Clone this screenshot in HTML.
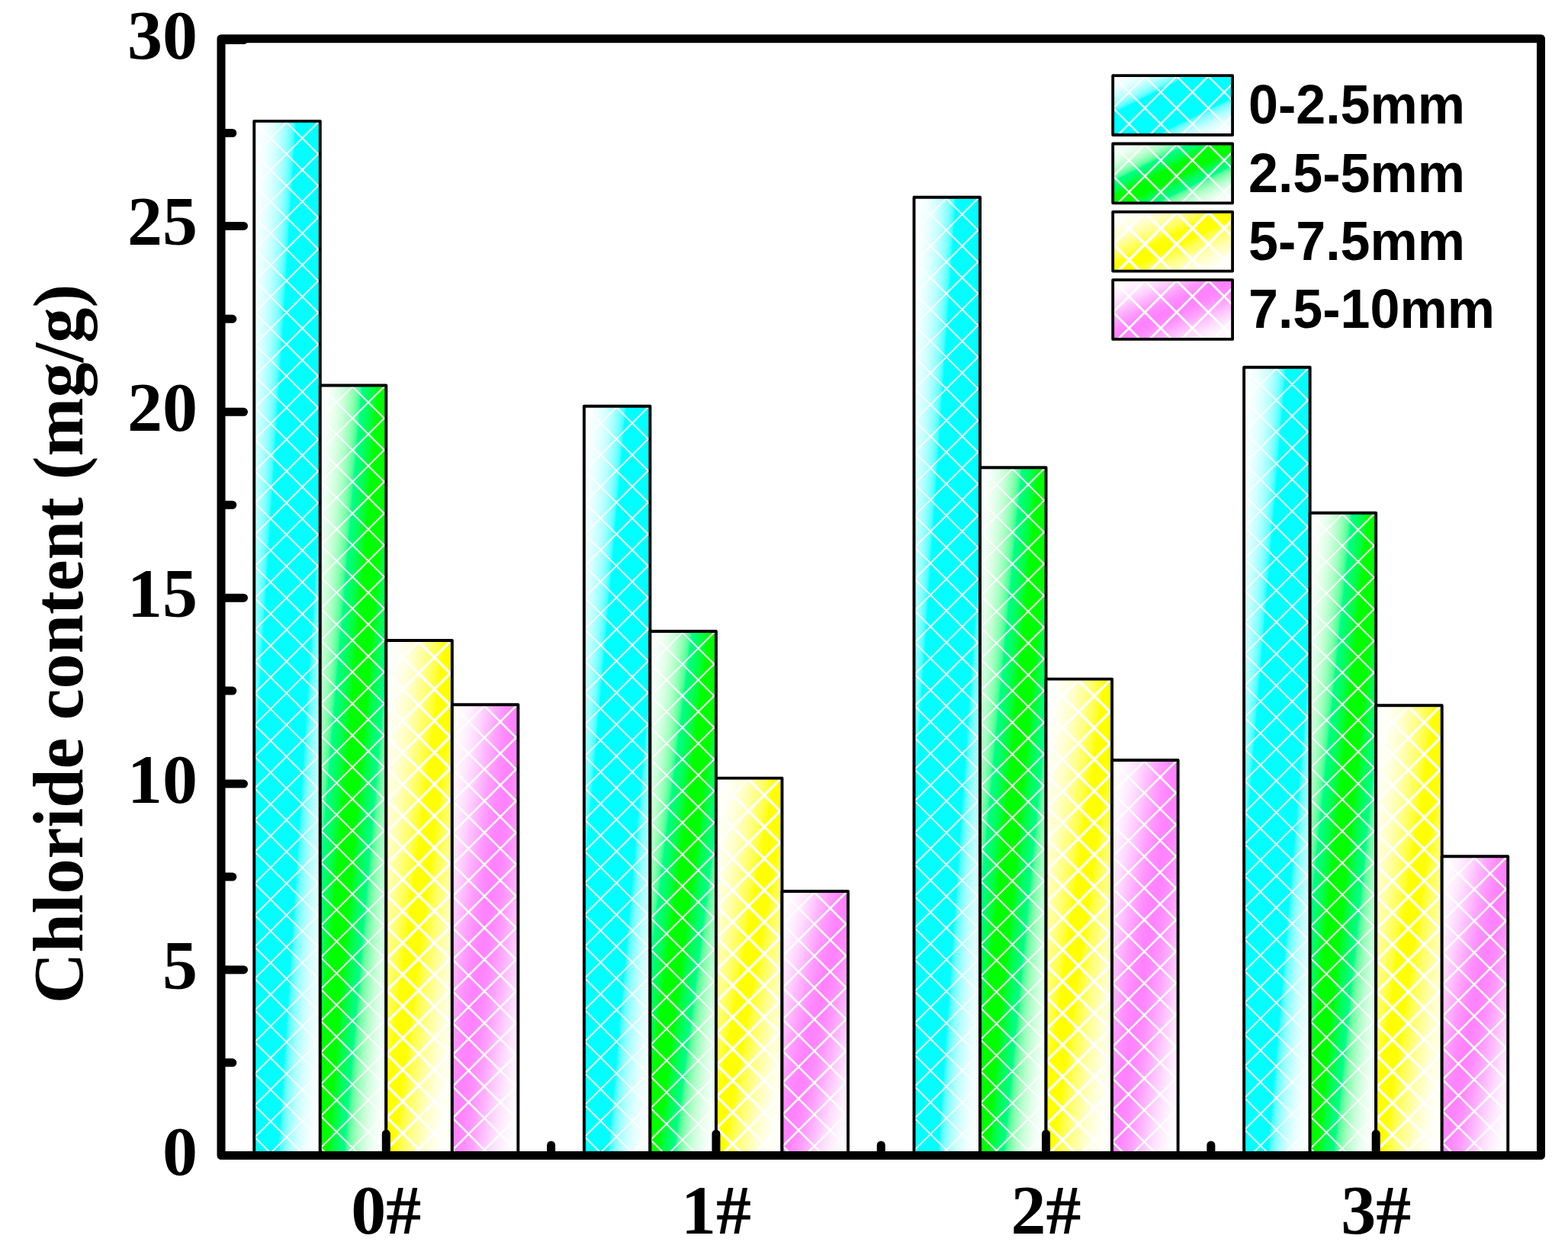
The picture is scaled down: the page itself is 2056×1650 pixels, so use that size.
<!DOCTYPE html>
<html lang="en"><head><meta charset="utf-8"><title>Chloride content</title>
<style>html,body{margin:0;padding:0;background:#fff}body{width:2056px;height:1650px;overflow:hidden}svg{display:block}.t{font-family:"Liberation Serif",serif;font-weight:bold;fill:#000}.l{font-family:"Liberation Sans",sans-serif;font-weight:bold;fill:#000}</style></head><body>
<svg width="2056" height="1650" viewBox="0 0 2056 1650">
<defs>
<linearGradient id="gc" x1="0" y1="0" x2="1" y2="1"><stop offset="0.0000" stop-color="#ffffff"/><stop offset="0.0083" stop-color="#feffff"/><stop offset="0.0167" stop-color="#feffff"/><stop offset="0.0250" stop-color="#fdffff"/><stop offset="0.0333" stop-color="#fcffff"/><stop offset="0.0417" stop-color="#fbffff"/><stop offset="0.0500" stop-color="#faffff"/><stop offset="0.0583" stop-color="#f8ffff"/><stop offset="0.0667" stop-color="#f7ffff"/><stop offset="0.0750" stop-color="#f5ffff"/><stop offset="0.0833" stop-color="#f3ffff"/><stop offset="0.0917" stop-color="#f1ffff"/><stop offset="0.1000" stop-color="#efffff"/><stop offset="0.1083" stop-color="#edffff"/><stop offset="0.1167" stop-color="#eaffff"/><stop offset="0.1250" stop-color="#e7ffff"/><stop offset="0.1333" stop-color="#e4ffff"/><stop offset="0.1417" stop-color="#e1ffff"/><stop offset="0.1500" stop-color="#ddffff"/><stop offset="0.1583" stop-color="#d9ffff"/><stop offset="0.1667" stop-color="#d5ffff"/><stop offset="0.1750" stop-color="#d0ffff"/><stop offset="0.1833" stop-color="#cbffff"/><stop offset="0.1917" stop-color="#c6ffff"/><stop offset="0.2000" stop-color="#c0ffff"/><stop offset="0.2083" stop-color="#baffff"/><stop offset="0.2167" stop-color="#b4ffff"/><stop offset="0.2250" stop-color="#adffff"/><stop offset="0.2333" stop-color="#a5ffff"/><stop offset="0.2417" stop-color="#9effff"/><stop offset="0.2500" stop-color="#95ffff"/><stop offset="0.2583" stop-color="#8cffff"/><stop offset="0.2667" stop-color="#82ffff"/><stop offset="0.2750" stop-color="#77ffff"/><stop offset="0.2833" stop-color="#6bffff"/><stop offset="0.2917" stop-color="#5dffff"/><stop offset="0.3000" stop-color="#4cffff"/><stop offset="0.3083" stop-color="#37ffff"/><stop offset="0.3167" stop-color="#0bffff"/><stop offset="0.3250" stop-color="#00ffff"/><stop offset="0.3333" stop-color="#00ffff"/><stop offset="0.3417" stop-color="#00ffff"/><stop offset="0.3500" stop-color="#00ffff"/><stop offset="0.3583" stop-color="#00ffff"/><stop offset="0.3667" stop-color="#00ffff"/><stop offset="0.3750" stop-color="#00ffff"/><stop offset="0.3833" stop-color="#00ffff"/><stop offset="0.3917" stop-color="#00ffff"/><stop offset="0.4000" stop-color="#00ffff"/><stop offset="0.4083" stop-color="#00ffff"/><stop offset="0.4167" stop-color="#00ffff"/><stop offset="0.4250" stop-color="#00ffff"/><stop offset="0.4333" stop-color="#00ffff"/><stop offset="0.4417" stop-color="#00ffff"/><stop offset="0.4500" stop-color="#00ffff"/><stop offset="0.4583" stop-color="#00ffff"/><stop offset="0.4667" stop-color="#00ffff"/><stop offset="0.4750" stop-color="#00ffff"/><stop offset="0.4833" stop-color="#00ffff"/><stop offset="0.4917" stop-color="#00ffff"/><stop offset="0.5000" stop-color="#00ffff"/><stop offset="0.5083" stop-color="#00ffff"/><stop offset="0.5167" stop-color="#00ffff"/><stop offset="0.5250" stop-color="#00ffff"/><stop offset="0.5333" stop-color="#00ffff"/><stop offset="0.5417" stop-color="#00ffff"/><stop offset="0.5500" stop-color="#00ffff"/><stop offset="0.5583" stop-color="#00ffff"/><stop offset="0.5667" stop-color="#00ffff"/><stop offset="0.5750" stop-color="#00ffff"/><stop offset="0.5833" stop-color="#00ffff"/><stop offset="0.5917" stop-color="#00ffff"/><stop offset="0.6000" stop-color="#00ffff"/><stop offset="0.6083" stop-color="#00ffff"/><stop offset="0.6167" stop-color="#00ffff"/><stop offset="0.6250" stop-color="#00ffff"/><stop offset="0.6333" stop-color="#00ffff"/><stop offset="0.6417" stop-color="#00ffff"/><stop offset="0.6500" stop-color="#00ffff"/><stop offset="0.6583" stop-color="#00ffff"/><stop offset="0.6667" stop-color="#00ffff"/><stop offset="0.6750" stop-color="#00ffff"/><stop offset="0.6833" stop-color="#0bffff"/><stop offset="0.6917" stop-color="#37ffff"/><stop offset="0.7000" stop-color="#4cffff"/><stop offset="0.7083" stop-color="#5dffff"/><stop offset="0.7167" stop-color="#6bffff"/><stop offset="0.7250" stop-color="#77ffff"/><stop offset="0.7333" stop-color="#82ffff"/><stop offset="0.7417" stop-color="#8cffff"/><stop offset="0.7500" stop-color="#95ffff"/><stop offset="0.7583" stop-color="#9effff"/><stop offset="0.7667" stop-color="#a5ffff"/><stop offset="0.7750" stop-color="#adffff"/><stop offset="0.7833" stop-color="#b4ffff"/><stop offset="0.7917" stop-color="#baffff"/><stop offset="0.8000" stop-color="#c0ffff"/><stop offset="0.8083" stop-color="#c6ffff"/><stop offset="0.8167" stop-color="#cbffff"/><stop offset="0.8250" stop-color="#d0ffff"/><stop offset="0.8333" stop-color="#d5ffff"/><stop offset="0.8417" stop-color="#d9ffff"/><stop offset="0.8500" stop-color="#ddffff"/><stop offset="0.8583" stop-color="#e1ffff"/><stop offset="0.8667" stop-color="#e4ffff"/><stop offset="0.8750" stop-color="#e7ffff"/><stop offset="0.8833" stop-color="#eaffff"/><stop offset="0.8917" stop-color="#edffff"/><stop offset="0.9000" stop-color="#efffff"/><stop offset="0.9083" stop-color="#f1ffff"/><stop offset="0.9167" stop-color="#f3ffff"/><stop offset="0.9250" stop-color="#f5ffff"/><stop offset="0.9333" stop-color="#f7ffff"/><stop offset="0.9417" stop-color="#f8ffff"/><stop offset="0.9500" stop-color="#faffff"/><stop offset="0.9583" stop-color="#fbffff"/><stop offset="0.9667" stop-color="#fcffff"/><stop offset="0.9750" stop-color="#fdffff"/><stop offset="0.9833" stop-color="#feffff"/><stop offset="0.9917" stop-color="#feffff"/><stop offset="1.0000" stop-color="#ffffff"/></linearGradient>
<linearGradient id="gg" x1="0" y1="0" x2="1" y2="1"><stop offset="0.0000" stop-color="#ffffff"/><stop offset="0.0083" stop-color="#feffff"/><stop offset="0.0167" stop-color="#fefffe"/><stop offset="0.0250" stop-color="#fdfffd"/><stop offset="0.0333" stop-color="#fcfffd"/><stop offset="0.0417" stop-color="#fbfffc"/><stop offset="0.0500" stop-color="#fafffb"/><stop offset="0.0583" stop-color="#f8fffa"/><stop offset="0.0667" stop-color="#f7fff9"/><stop offset="0.0750" stop-color="#f5fff8"/><stop offset="0.0833" stop-color="#f3fff6"/><stop offset="0.0917" stop-color="#f1fff5"/><stop offset="0.1000" stop-color="#effff3"/><stop offset="0.1083" stop-color="#edfff2"/><stop offset="0.1167" stop-color="#eafff0"/><stop offset="0.1250" stop-color="#e7ffee"/><stop offset="0.1333" stop-color="#e4ffeb"/><stop offset="0.1417" stop-color="#e1ffe9"/><stop offset="0.1500" stop-color="#ddffe6"/><stop offset="0.1583" stop-color="#d9ffe3"/><stop offset="0.1667" stop-color="#d5ffe0"/><stop offset="0.1750" stop-color="#d0ffdd"/><stop offset="0.1833" stop-color="#cbffda"/><stop offset="0.1917" stop-color="#c6ffd6"/><stop offset="0.2000" stop-color="#c0ffd3"/><stop offset="0.2083" stop-color="#baffcf"/><stop offset="0.2167" stop-color="#b4ffca"/><stop offset="0.2250" stop-color="#adffc6"/><stop offset="0.2333" stop-color="#a5ffc2"/><stop offset="0.2417" stop-color="#9effbd"/><stop offset="0.2500" stop-color="#95ffb8"/><stop offset="0.2583" stop-color="#8cffb3"/><stop offset="0.2667" stop-color="#82ffae"/><stop offset="0.2750" stop-color="#77ffa8"/><stop offset="0.2833" stop-color="#6bffa2"/><stop offset="0.2917" stop-color="#5dff9d"/><stop offset="0.3000" stop-color="#4cff97"/><stop offset="0.3083" stop-color="#37ff91"/><stop offset="0.3167" stop-color="#0bff8b"/><stop offset="0.3250" stop-color="#00ff84"/><stop offset="0.3333" stop-color="#00ff7e"/><stop offset="0.3417" stop-color="#00ff77"/><stop offset="0.3500" stop-color="#00ff71"/><stop offset="0.3583" stop-color="#00ff6a"/><stop offset="0.3667" stop-color="#00ff63"/><stop offset="0.3750" stop-color="#00ff5b"/><stop offset="0.3833" stop-color="#00ff54"/><stop offset="0.3917" stop-color="#00ff4c"/><stop offset="0.4000" stop-color="#00ff44"/><stop offset="0.4083" stop-color="#00ff3b"/><stop offset="0.4167" stop-color="#00ff32"/><stop offset="0.4250" stop-color="#00ff27"/><stop offset="0.4333" stop-color="#00ff1a"/><stop offset="0.4417" stop-color="#00ff02"/><stop offset="0.4500" stop-color="#00ff00"/><stop offset="0.4583" stop-color="#00ff00"/><stop offset="0.4667" stop-color="#00ff00"/><stop offset="0.4750" stop-color="#00ff00"/><stop offset="0.4833" stop-color="#00ff00"/><stop offset="0.4917" stop-color="#00ff00"/><stop offset="0.5000" stop-color="#00ff00"/><stop offset="0.5083" stop-color="#00ff00"/><stop offset="0.5167" stop-color="#00ff00"/><stop offset="0.5250" stop-color="#00ff00"/><stop offset="0.5333" stop-color="#00ff00"/><stop offset="0.5417" stop-color="#00ff00"/><stop offset="0.5500" stop-color="#00ff00"/><stop offset="0.5583" stop-color="#00ff02"/><stop offset="0.5667" stop-color="#00ff1a"/><stop offset="0.5750" stop-color="#00ff27"/><stop offset="0.5833" stop-color="#00ff32"/><stop offset="0.5917" stop-color="#00ff3b"/><stop offset="0.6000" stop-color="#00ff44"/><stop offset="0.6083" stop-color="#00ff4c"/><stop offset="0.6167" stop-color="#00ff54"/><stop offset="0.6250" stop-color="#00ff5b"/><stop offset="0.6333" stop-color="#00ff63"/><stop offset="0.6417" stop-color="#00ff6a"/><stop offset="0.6500" stop-color="#00ff71"/><stop offset="0.6583" stop-color="#00ff77"/><stop offset="0.6667" stop-color="#00ff7e"/><stop offset="0.6750" stop-color="#00ff84"/><stop offset="0.6833" stop-color="#0bff8b"/><stop offset="0.6917" stop-color="#37ff91"/><stop offset="0.7000" stop-color="#4cff97"/><stop offset="0.7083" stop-color="#5dff9d"/><stop offset="0.7167" stop-color="#6bffa2"/><stop offset="0.7250" stop-color="#77ffa8"/><stop offset="0.7333" stop-color="#82ffae"/><stop offset="0.7417" stop-color="#8cffb3"/><stop offset="0.7500" stop-color="#95ffb8"/><stop offset="0.7583" stop-color="#9effbd"/><stop offset="0.7667" stop-color="#a5ffc2"/><stop offset="0.7750" stop-color="#adffc6"/><stop offset="0.7833" stop-color="#b4ffca"/><stop offset="0.7917" stop-color="#baffcf"/><stop offset="0.8000" stop-color="#c0ffd3"/><stop offset="0.8083" stop-color="#c6ffd6"/><stop offset="0.8167" stop-color="#cbffda"/><stop offset="0.8250" stop-color="#d0ffdd"/><stop offset="0.8333" stop-color="#d5ffe0"/><stop offset="0.8417" stop-color="#d9ffe3"/><stop offset="0.8500" stop-color="#ddffe6"/><stop offset="0.8583" stop-color="#e1ffe9"/><stop offset="0.8667" stop-color="#e4ffeb"/><stop offset="0.8750" stop-color="#e7ffee"/><stop offset="0.8833" stop-color="#eafff0"/><stop offset="0.8917" stop-color="#edfff2"/><stop offset="0.9000" stop-color="#effff3"/><stop offset="0.9083" stop-color="#f1fff5"/><stop offset="0.9167" stop-color="#f3fff6"/><stop offset="0.9250" stop-color="#f5fff8"/><stop offset="0.9333" stop-color="#f7fff9"/><stop offset="0.9417" stop-color="#f8fffa"/><stop offset="0.9500" stop-color="#fafffb"/><stop offset="0.9583" stop-color="#fbfffc"/><stop offset="0.9667" stop-color="#fcfffd"/><stop offset="0.9750" stop-color="#fdfffd"/><stop offset="0.9833" stop-color="#fefffe"/><stop offset="0.9917" stop-color="#feffff"/><stop offset="1.0000" stop-color="#ffffff"/></linearGradient>
<linearGradient id="gy" x1="0" y1="0" x2="1" y2="1"><stop offset="0.0000" stop-color="#ffffff"/><stop offset="0.0083" stop-color="#ffffff"/><stop offset="0.0167" stop-color="#fffffe"/><stop offset="0.0250" stop-color="#fffffd"/><stop offset="0.0333" stop-color="#fffffd"/><stop offset="0.0417" stop-color="#fffffc"/><stop offset="0.0500" stop-color="#fffffb"/><stop offset="0.0583" stop-color="#fffffa"/><stop offset="0.0667" stop-color="#fffff9"/><stop offset="0.0750" stop-color="#fffff8"/><stop offset="0.0833" stop-color="#fffff6"/><stop offset="0.0917" stop-color="#fffff5"/><stop offset="0.1000" stop-color="#fffff3"/><stop offset="0.1083" stop-color="#fffff2"/><stop offset="0.1167" stop-color="#fffff0"/><stop offset="0.1250" stop-color="#ffffee"/><stop offset="0.1333" stop-color="#ffffeb"/><stop offset="0.1417" stop-color="#ffffe9"/><stop offset="0.1500" stop-color="#ffffe6"/><stop offset="0.1583" stop-color="#ffffe3"/><stop offset="0.1667" stop-color="#ffffe0"/><stop offset="0.1750" stop-color="#ffffdd"/><stop offset="0.1833" stop-color="#ffffda"/><stop offset="0.1917" stop-color="#ffffd6"/><stop offset="0.2000" stop-color="#ffffd3"/><stop offset="0.2083" stop-color="#ffffcf"/><stop offset="0.2167" stop-color="#ffffca"/><stop offset="0.2250" stop-color="#ffffc6"/><stop offset="0.2333" stop-color="#ffffc2"/><stop offset="0.2417" stop-color="#ffffbd"/><stop offset="0.2500" stop-color="#ffffb8"/><stop offset="0.2583" stop-color="#ffffb3"/><stop offset="0.2667" stop-color="#ffffae"/><stop offset="0.2750" stop-color="#ffffa8"/><stop offset="0.2833" stop-color="#ffffa2"/><stop offset="0.2917" stop-color="#ffff9d"/><stop offset="0.3000" stop-color="#ffff97"/><stop offset="0.3083" stop-color="#ffff91"/><stop offset="0.3167" stop-color="#ffff8b"/><stop offset="0.3250" stop-color="#ffff84"/><stop offset="0.3333" stop-color="#ffff7e"/><stop offset="0.3417" stop-color="#ffff77"/><stop offset="0.3500" stop-color="#ffff71"/><stop offset="0.3583" stop-color="#ffff6a"/><stop offset="0.3667" stop-color="#ffff63"/><stop offset="0.3750" stop-color="#ffff5b"/><stop offset="0.3833" stop-color="#ffff54"/><stop offset="0.3917" stop-color="#ffff4c"/><stop offset="0.4000" stop-color="#ffff44"/><stop offset="0.4083" stop-color="#ffff3b"/><stop offset="0.4167" stop-color="#ffff32"/><stop offset="0.4250" stop-color="#ffff27"/><stop offset="0.4333" stop-color="#ffff1a"/><stop offset="0.4417" stop-color="#ffff02"/><stop offset="0.4500" stop-color="#ffff00"/><stop offset="0.4583" stop-color="#ffff00"/><stop offset="0.4667" stop-color="#ffff00"/><stop offset="0.4750" stop-color="#ffff00"/><stop offset="0.4833" stop-color="#ffff00"/><stop offset="0.4917" stop-color="#ffff00"/><stop offset="0.5000" stop-color="#ffff00"/><stop offset="0.5083" stop-color="#ffff00"/><stop offset="0.5167" stop-color="#ffff00"/><stop offset="0.5250" stop-color="#ffff00"/><stop offset="0.5333" stop-color="#ffff00"/><stop offset="0.5417" stop-color="#ffff00"/><stop offset="0.5500" stop-color="#ffff00"/><stop offset="0.5583" stop-color="#ffff02"/><stop offset="0.5667" stop-color="#ffff1a"/><stop offset="0.5750" stop-color="#ffff27"/><stop offset="0.5833" stop-color="#ffff32"/><stop offset="0.5917" stop-color="#ffff3b"/><stop offset="0.6000" stop-color="#ffff44"/><stop offset="0.6083" stop-color="#ffff4c"/><stop offset="0.6167" stop-color="#ffff54"/><stop offset="0.6250" stop-color="#ffff5b"/><stop offset="0.6333" stop-color="#ffff63"/><stop offset="0.6417" stop-color="#ffff6a"/><stop offset="0.6500" stop-color="#ffff71"/><stop offset="0.6583" stop-color="#ffff77"/><stop offset="0.6667" stop-color="#ffff7e"/><stop offset="0.6750" stop-color="#ffff84"/><stop offset="0.6833" stop-color="#ffff8b"/><stop offset="0.6917" stop-color="#ffff91"/><stop offset="0.7000" stop-color="#ffff97"/><stop offset="0.7083" stop-color="#ffff9d"/><stop offset="0.7167" stop-color="#ffffa2"/><stop offset="0.7250" stop-color="#ffffa8"/><stop offset="0.7333" stop-color="#ffffae"/><stop offset="0.7417" stop-color="#ffffb3"/><stop offset="0.7500" stop-color="#ffffb8"/><stop offset="0.7583" stop-color="#ffffbd"/><stop offset="0.7667" stop-color="#ffffc2"/><stop offset="0.7750" stop-color="#ffffc6"/><stop offset="0.7833" stop-color="#ffffca"/><stop offset="0.7917" stop-color="#ffffcf"/><stop offset="0.8000" stop-color="#ffffd3"/><stop offset="0.8083" stop-color="#ffffd6"/><stop offset="0.8167" stop-color="#ffffda"/><stop offset="0.8250" stop-color="#ffffdd"/><stop offset="0.8333" stop-color="#ffffe0"/><stop offset="0.8417" stop-color="#ffffe3"/><stop offset="0.8500" stop-color="#ffffe6"/><stop offset="0.8583" stop-color="#ffffe9"/><stop offset="0.8667" stop-color="#ffffeb"/><stop offset="0.8750" stop-color="#ffffee"/><stop offset="0.8833" stop-color="#fffff0"/><stop offset="0.8917" stop-color="#fffff2"/><stop offset="0.9000" stop-color="#fffff3"/><stop offset="0.9083" stop-color="#fffff5"/><stop offset="0.9167" stop-color="#fffff6"/><stop offset="0.9250" stop-color="#fffff8"/><stop offset="0.9333" stop-color="#fffff9"/><stop offset="0.9417" stop-color="#fffffa"/><stop offset="0.9500" stop-color="#fffffb"/><stop offset="0.9583" stop-color="#fffffc"/><stop offset="0.9667" stop-color="#fffffd"/><stop offset="0.9750" stop-color="#fffffd"/><stop offset="0.9833" stop-color="#fffffe"/><stop offset="0.9917" stop-color="#ffffff"/><stop offset="1.0000" stop-color="#ffffff"/></linearGradient>
<linearGradient id="gp" x1="0" y1="0" x2="1" y2="1"><stop offset="0.0000" stop-color="#ffffff"/><stop offset="0.0083" stop-color="#ffffff"/><stop offset="0.0167" stop-color="#fffeff"/><stop offset="0.0250" stop-color="#fffeff"/><stop offset="0.0333" stop-color="#fffdff"/><stop offset="0.0417" stop-color="#fffdff"/><stop offset="0.0500" stop-color="#fffcff"/><stop offset="0.0583" stop-color="#fffbff"/><stop offset="0.0667" stop-color="#fffbff"/><stop offset="0.0750" stop-color="#fffaff"/><stop offset="0.0833" stop-color="#fff9ff"/><stop offset="0.0917" stop-color="#fff8ff"/><stop offset="0.1000" stop-color="#fff6ff"/><stop offset="0.1083" stop-color="#fff5ff"/><stop offset="0.1167" stop-color="#fff4ff"/><stop offset="0.1250" stop-color="#fff2ff"/><stop offset="0.1333" stop-color="#fff0ff"/><stop offset="0.1417" stop-color="#ffefff"/><stop offset="0.1500" stop-color="#ffedff"/><stop offset="0.1583" stop-color="#ffebff"/><stop offset="0.1667" stop-color="#ffe9ff"/><stop offset="0.1750" stop-color="#ffe6ff"/><stop offset="0.1833" stop-color="#ffe4ff"/><stop offset="0.1917" stop-color="#ffe1ff"/><stop offset="0.2000" stop-color="#ffdfff"/><stop offset="0.2083" stop-color="#ffdcff"/><stop offset="0.2167" stop-color="#ffd9ff"/><stop offset="0.2250" stop-color="#ffd6ff"/><stop offset="0.2333" stop-color="#ffd3ff"/><stop offset="0.2417" stop-color="#ffd0ff"/><stop offset="0.2500" stop-color="#ffcdff"/><stop offset="0.2583" stop-color="#ffcaff"/><stop offset="0.2667" stop-color="#ffc6ff"/><stop offset="0.2750" stop-color="#ffc3ff"/><stop offset="0.2833" stop-color="#ffbfff"/><stop offset="0.2917" stop-color="#ffbcff"/><stop offset="0.3000" stop-color="#ffb9ff"/><stop offset="0.3083" stop-color="#ffb5ff"/><stop offset="0.3167" stop-color="#ffb2ff"/><stop offset="0.3250" stop-color="#ffaeff"/><stop offset="0.3333" stop-color="#ffabff"/><stop offset="0.3417" stop-color="#ffa8ff"/><stop offset="0.3500" stop-color="#ffa5ff"/><stop offset="0.3583" stop-color="#ffa1ff"/><stop offset="0.3667" stop-color="#ff9eff"/><stop offset="0.3750" stop-color="#ff9cff"/><stop offset="0.3833" stop-color="#ff99ff"/><stop offset="0.3917" stop-color="#ff96ff"/><stop offset="0.4000" stop-color="#ff94ff"/><stop offset="0.4083" stop-color="#ff91ff"/><stop offset="0.4167" stop-color="#ff8fff"/><stop offset="0.4250" stop-color="#ff8dff"/><stop offset="0.4333" stop-color="#ff8bff"/><stop offset="0.4417" stop-color="#ff89ff"/><stop offset="0.4500" stop-color="#ff88ff"/><stop offset="0.4583" stop-color="#ff86ff"/><stop offset="0.4667" stop-color="#ff85ff"/><stop offset="0.4750" stop-color="#ff84ff"/><stop offset="0.4833" stop-color="#ff83ff"/><stop offset="0.4917" stop-color="#ff82ff"/><stop offset="0.5000" stop-color="#ff81ff"/><stop offset="0.5083" stop-color="#ff82ff"/><stop offset="0.5167" stop-color="#ff83ff"/><stop offset="0.5250" stop-color="#ff84ff"/><stop offset="0.5333" stop-color="#ff85ff"/><stop offset="0.5417" stop-color="#ff86ff"/><stop offset="0.5500" stop-color="#ff88ff"/><stop offset="0.5583" stop-color="#ff89ff"/><stop offset="0.5667" stop-color="#ff8bff"/><stop offset="0.5750" stop-color="#ff8dff"/><stop offset="0.5833" stop-color="#ff8fff"/><stop offset="0.5917" stop-color="#ff91ff"/><stop offset="0.6000" stop-color="#ff94ff"/><stop offset="0.6083" stop-color="#ff96ff"/><stop offset="0.6167" stop-color="#ff99ff"/><stop offset="0.6250" stop-color="#ff9cff"/><stop offset="0.6333" stop-color="#ff9eff"/><stop offset="0.6417" stop-color="#ffa1ff"/><stop offset="0.6500" stop-color="#ffa5ff"/><stop offset="0.6583" stop-color="#ffa8ff"/><stop offset="0.6667" stop-color="#ffabff"/><stop offset="0.6750" stop-color="#ffaeff"/><stop offset="0.6833" stop-color="#ffb2ff"/><stop offset="0.6917" stop-color="#ffb5ff"/><stop offset="0.7000" stop-color="#ffb9ff"/><stop offset="0.7083" stop-color="#ffbcff"/><stop offset="0.7167" stop-color="#ffbfff"/><stop offset="0.7250" stop-color="#ffc3ff"/><stop offset="0.7333" stop-color="#ffc6ff"/><stop offset="0.7417" stop-color="#ffcaff"/><stop offset="0.7500" stop-color="#ffcdff"/><stop offset="0.7583" stop-color="#ffd0ff"/><stop offset="0.7667" stop-color="#ffd3ff"/><stop offset="0.7750" stop-color="#ffd6ff"/><stop offset="0.7833" stop-color="#ffd9ff"/><stop offset="0.7917" stop-color="#ffdcff"/><stop offset="0.8000" stop-color="#ffdfff"/><stop offset="0.8083" stop-color="#ffe1ff"/><stop offset="0.8167" stop-color="#ffe4ff"/><stop offset="0.8250" stop-color="#ffe6ff"/><stop offset="0.8333" stop-color="#ffe9ff"/><stop offset="0.8417" stop-color="#ffebff"/><stop offset="0.8500" stop-color="#ffedff"/><stop offset="0.8583" stop-color="#ffefff"/><stop offset="0.8667" stop-color="#fff0ff"/><stop offset="0.8750" stop-color="#fff2ff"/><stop offset="0.8833" stop-color="#fff4ff"/><stop offset="0.8917" stop-color="#fff5ff"/><stop offset="0.9000" stop-color="#fff6ff"/><stop offset="0.9083" stop-color="#fff8ff"/><stop offset="0.9167" stop-color="#fff9ff"/><stop offset="0.9250" stop-color="#fffaff"/><stop offset="0.9333" stop-color="#fffbff"/><stop offset="0.9417" stop-color="#fffbff"/><stop offset="0.9500" stop-color="#fffcff"/><stop offset="0.9583" stop-color="#fffdff"/><stop offset="0.9667" stop-color="#fffdff"/><stop offset="0.9750" stop-color="#fffeff"/><stop offset="0.9833" stop-color="#fffeff"/><stop offset="0.9917" stop-color="#ffffff"/><stop offset="1.0000" stop-color="#ffffff"/></linearGradient>
</defs>
<rect width="2056" height="1650" fill="#fff"/>
<clipPath id="k1"><rect x="333.26" y="158.9" width="86.53" height="1353.1"/></clipPath>
<rect x="333.26" y="158.9" width="86.53" height="1353.1" fill="url(#gc)"/>
<path clip-path="url(#k1)" d="M331.26 74.5L421.79 165.03M331.26 116.1L421.79 206.63M331.26 157.7L421.79 248.23M331.26 199.3L421.79 289.83M331.26 240.9L421.79 331.43M331.26 282.5L421.79 373.03M331.26 324.1L421.79 414.63M331.26 365.7L421.79 456.23M331.26 407.3L421.79 497.83M331.26 448.9L421.79 539.43M331.26 490.5L421.79 581.03M331.26 532.1L421.79 622.63M331.26 573.7L421.79 664.23M331.26 615.3L421.79 705.83M331.26 656.9L421.79 747.43M331.26 698.5L421.79 789.03M331.26 740.1L421.79 830.62M331.26 781.7L421.79 872.23M331.26 823.3L421.79 913.83M331.26 864.9L421.79 955.43M331.26 906.5L421.79 997.03M331.26 948.1L421.79 1038.62M331.26 989.7L421.79 1080.23M331.26 1031.3L421.79 1121.83M331.26 1072.9L421.79 1163.43M331.26 1114.5L421.79 1205.03M331.26 1156.1L421.79 1246.63M331.26 1197.7L421.79 1288.23M331.26 1239.3L421.79 1329.83M331.26 1280.9L421.79 1371.43M331.26 1322.5L421.79 1413.03M331.26 1364.1L421.79 1454.63M331.26 1405.7L421.79 1496.23M331.26 1447.3L421.79 1537.83M331.26 1488.9L421.79 1579.43M331.26 163.1L421.79 72.57M331.26 204.7L421.79 114.17M331.26 246.3L421.79 155.77M331.26 287.9L421.79 197.37M331.26 329.5L421.79 238.97M331.26 371.1L421.79 280.57M331.26 412.7L421.79 322.17M331.26 454.3L421.79 363.77M331.26 495.9L421.79 405.38M331.26 537.5L421.79 446.98M331.26 579.1L421.79 488.57M331.26 620.7L421.79 530.17M331.26 662.3L421.79 571.77M331.26 703.9L421.79 613.38M331.26 745.5L421.79 654.97M331.26 787.1L421.79 696.57M331.26 828.7L421.79 738.17M331.26 870.3L421.79 779.77M331.26 911.9L421.79 821.38M331.26 953.5L421.79 862.97M331.26 995.1L421.79 904.57M331.26 1036.7L421.79 946.17M331.26 1078.3L421.79 987.77M331.26 1119.9L421.79 1029.38M331.26 1161.5L421.79 1070.98M331.26 1203.1L421.79 1112.58M331.26 1244.7L421.79 1154.18M331.26 1286.3L421.79 1195.78M331.26 1327.9L421.79 1237.38M331.26 1369.5L421.79 1278.98M331.26 1411.1L421.79 1320.58M331.26 1452.7L421.79 1362.18M331.26 1494.3L421.79 1403.78M331.26 1535.9L421.79 1445.38M331.26 1577.5L421.79 1486.98" stroke="#fff" stroke-width="1.9" fill="none"/>
<rect x="333.26" y="158.9" width="86.53" height="1353.1" fill="none" stroke="#000" stroke-width="3.9" stroke-linejoin="round"/>
<clipPath id="k2"><rect x="419.79" y="505.5" width="86.53" height="1006.5"/></clipPath>
<rect x="419.79" y="505.5" width="86.53" height="1006.5" fill="url(#gg)"/>
<path clip-path="url(#k2)" d="M417.79 421.1L508.31 511.63M417.79 462.7L508.31 553.23M417.79 504.3L508.31 594.83M417.79 545.9L508.31 636.43M417.79 587.5L508.31 678.03M417.79 629.1L508.31 719.62M417.79 670.7L508.31 761.23M417.79 712.3L508.31 802.83M417.79 753.9L508.31 844.43M417.79 795.5L508.31 886.03M417.79 837.1L508.31 927.62M417.79 878.7L508.31 969.23M417.79 920.3L508.31 1010.83M417.79 961.9L508.31 1052.43M417.79 1003.5L508.31 1094.03M417.79 1045.1L508.31 1135.62M417.79 1086.7L508.31 1177.22M417.79 1128.3L508.31 1218.83M417.79 1169.9L508.31 1260.43M417.79 1211.5L508.31 1302.03M417.79 1253.1L508.31 1343.62M417.79 1294.7L508.31 1385.22M417.79 1336.3L508.31 1426.83M417.79 1377.9L508.31 1468.43M417.79 1419.5L508.31 1510.03M417.79 1461.1L508.31 1551.62M417.79 1502.7L508.31 1593.23M417.79 509.7L508.31 419.18M417.79 551.3L508.31 460.78M417.79 592.9L508.31 502.38M417.79 634.5L508.31 543.98M417.79 676.1L508.31 585.58M417.79 717.7L508.31 627.17M417.79 759.3L508.31 668.78M417.79 800.9L508.31 710.38M417.79 842.5L508.31 751.98M417.79 884.1L508.31 793.58M417.79 925.7L508.31 835.17M417.79 967.3L508.31 876.78M417.79 1008.9L508.31 918.38M417.79 1050.5L508.31 959.98M417.79 1092.1L508.31 1001.58M417.79 1133.7L508.31 1043.17M417.79 1175.3L508.31 1084.78M417.79 1216.9L508.31 1126.38M417.79 1258.5L508.31 1167.98M417.79 1300.1L508.31 1209.58M417.79 1341.7L508.31 1251.17M417.79 1383.3L508.31 1292.78M417.79 1424.9L508.31 1334.38M417.79 1466.5L508.31 1375.98M417.79 1508.1L508.31 1417.58M417.79 1549.7L508.31 1459.17M417.79 1591.3L508.31 1500.78" stroke="#fff" stroke-width="2" fill="none"/>
<rect x="419.79" y="505.5" width="86.53" height="1006.5" fill="none" stroke="#000" stroke-width="3.9" stroke-linejoin="round"/>
<clipPath id="k3"><rect x="506.31" y="840" width="86.53" height="672"/></clipPath>
<rect x="506.31" y="840" width="86.53" height="672" fill="url(#gy)"/>
<path clip-path="url(#k3)" d="M504.31 755.6L594.84 846.12M504.31 797.2L594.84 887.73M504.31 838.8L594.84 929.33M504.31 880.4L594.84 970.93M504.31 922L594.84 1012.53M504.31 963.6L594.84 1054.12M504.31 1005.2L594.84 1095.73M504.31 1046.8L594.84 1137.33M504.31 1088.4L594.84 1178.93M504.31 1130L594.84 1220.53M504.31 1171.6L594.84 1262.12M504.31 1213.2L594.84 1303.73M504.31 1254.8L594.84 1345.33M504.31 1296.4L594.84 1386.93M504.31 1338L594.84 1428.53M504.31 1379.6L594.84 1470.12M504.31 1421.2L594.84 1511.72M504.31 1462.8L594.84 1553.33M504.31 1504.4L594.84 1594.93M504.31 844.2L594.84 753.67M504.31 885.8L594.84 795.27M504.31 927.4L594.84 836.88M504.31 969L594.84 878.47M504.31 1010.6L594.84 920.07M504.31 1052.2L594.84 961.67M504.31 1093.8L594.84 1003.27M504.31 1135.4L594.84 1044.88M504.31 1177L594.84 1086.47M504.31 1218.6L594.84 1128.08M504.31 1260.2L594.84 1169.67M504.31 1301.8L594.84 1211.28M504.31 1343.4L594.84 1252.88M504.31 1385L594.84 1294.47M504.31 1426.6L594.84 1336.07M504.31 1468.2L594.84 1377.67M504.31 1509.8L594.84 1419.28M504.31 1551.4L594.84 1460.88M504.31 1593L594.84 1502.47" stroke="#fff" stroke-width="3.4" fill="none"/>
<rect x="506.31" y="840" width="86.53" height="672" fill="none" stroke="#000" stroke-width="3.9" stroke-linejoin="round"/>
<clipPath id="k4"><rect x="592.84" y="924.3" width="86.53" height="587.7"/></clipPath>
<rect x="592.84" y="924.3" width="86.53" height="587.7" fill="url(#gp)"/>
<path clip-path="url(#k4)" d="M590.84 839.9L681.36 930.42M590.84 881.5L681.36 972.02M590.84 923.1L681.36 1013.62M590.84 964.7L681.36 1055.22M590.84 1006.3L681.36 1096.82M590.84 1047.9L681.36 1138.42M590.84 1089.5L681.36 1180.02M590.84 1131.1L681.36 1221.62M590.84 1172.7L681.36 1263.22M590.84 1214.3L681.36 1304.82M590.84 1255.9L681.36 1346.42M590.84 1297.5L681.36 1388.02M590.84 1339.1L681.36 1429.62M590.84 1380.7L681.36 1471.22M590.84 1422.3L681.36 1512.82M590.84 1463.9L681.36 1554.42M590.84 1505.5L681.36 1596.02M590.84 928.5L681.36 837.98M590.84 970.1L681.36 879.58M590.84 1011.7L681.36 921.18M590.84 1053.3L681.36 962.78M590.84 1094.9L681.36 1004.38M590.84 1136.5L681.36 1045.97M590.84 1178.1L681.36 1087.58M590.84 1219.7L681.36 1129.17M590.84 1261.3L681.36 1170.78M590.84 1302.9L681.36 1212.38M590.84 1344.5L681.36 1253.97M590.84 1386.1L681.36 1295.58M590.84 1427.7L681.36 1337.18M590.84 1469.3L681.36 1378.78M590.84 1510.9L681.36 1420.38M590.84 1552.5L681.36 1461.97M590.84 1594.1L681.36 1503.58" stroke="#fff" stroke-width="2.5" fill="none"/>
<rect x="592.84" y="924.3" width="86.53" height="587.7" fill="none" stroke="#000" stroke-width="3.9" stroke-linejoin="round"/>
<clipPath id="k5"><rect x="765.89" y="532.7" width="86.53" height="979.3"/></clipPath>
<rect x="765.89" y="532.7" width="86.53" height="979.3" fill="url(#gc)"/>
<path clip-path="url(#k5)" d="M763.89 448.3L854.41 538.82M763.89 489.9L854.41 580.42M763.89 531.5L854.41 622.02M763.89 573.1L854.41 663.62M763.89 614.7L854.41 705.23M763.89 656.3L854.41 746.83M763.89 697.9L854.41 788.42M763.89 739.5L854.41 830.02M763.89 781.1L854.41 871.62M763.89 822.7L854.41 913.22M763.89 864.3L854.41 954.83M763.89 905.9L854.41 996.42M763.89 947.5L854.41 1038.03M763.89 989.1L854.41 1079.62M763.89 1030.7L854.41 1121.22M763.89 1072.3L854.41 1162.83M763.89 1113.9L854.41 1204.42M763.89 1155.5L854.41 1246.03M763.89 1197.1L854.41 1287.62M763.89 1238.7L854.41 1329.22M763.89 1280.3L854.41 1370.83M763.89 1321.9L854.41 1412.42M763.89 1363.5L854.41 1454.03M763.89 1405.1L854.41 1495.62M763.89 1446.7L854.41 1537.22M763.89 1488.3L854.41 1578.83M763.89 536.9L854.41 446.38M763.89 578.5L854.41 487.98M763.89 620.1L854.41 529.58M763.89 661.7L854.41 571.18M763.89 703.3L854.41 612.78M763.89 744.9L854.41 654.38M763.89 786.5L854.41 695.98M763.89 828.1L854.41 737.58M763.89 869.7L854.41 779.18M763.89 911.3L854.41 820.78M763.89 952.9L854.41 862.38M763.89 994.5L854.41 903.98M763.89 1036.1L854.41 945.58M763.89 1077.7L854.41 987.18M763.89 1119.3L854.41 1028.78M763.89 1160.9L854.41 1070.38M763.89 1202.5L854.41 1111.98M763.89 1244.1L854.41 1153.58M763.89 1285.7L854.41 1195.18M763.89 1327.3L854.41 1236.78M763.89 1368.9L854.41 1278.38M763.89 1410.5L854.41 1319.98M763.89 1452.1L854.41 1361.58M763.89 1493.7L854.41 1403.18M763.89 1535.3L854.41 1444.78M763.89 1576.9L854.41 1486.38" stroke="#fff" stroke-width="1.9" fill="none"/>
<rect x="765.89" y="532.7" width="86.53" height="979.3" fill="none" stroke="#000" stroke-width="3.9" stroke-linejoin="round"/>
<clipPath id="k6"><rect x="852.41" y="828" width="86.53" height="684"/></clipPath>
<rect x="852.41" y="828" width="86.53" height="684" fill="url(#gg)"/>
<path clip-path="url(#k6)" d="M850.41 743.6L940.94 834.12M850.41 785.2L940.94 875.72M850.41 826.8L940.94 917.32M850.41 868.4L940.94 958.92M850.41 910L940.94 1000.52M850.41 951.6L940.94 1042.12M850.41 993.2L940.94 1083.72M850.41 1034.8L940.94 1125.32M850.41 1076.4L940.94 1166.92M850.41 1118L940.94 1208.52M850.41 1159.6L940.94 1250.12M850.41 1201.2L940.94 1291.72M850.41 1242.8L940.94 1333.32M850.41 1284.4L940.94 1374.92M850.41 1326L940.94 1416.53M850.41 1367.6L940.94 1458.12M850.41 1409.2L940.94 1499.72M850.41 1450.8L940.94 1541.32M850.41 1492.4L940.94 1582.92M850.41 832.2L940.94 741.68M850.41 873.8L940.94 783.28M850.41 915.4L940.94 824.88M850.41 957L940.94 866.48M850.41 998.6L940.94 908.08M850.41 1040.2L940.94 949.68M850.41 1081.8L940.94 991.28M850.41 1123.4L940.94 1032.88M850.41 1165L940.94 1074.48M850.41 1206.6L940.94 1116.08M850.41 1248.2L940.94 1157.68M850.41 1289.8L940.94 1199.28M850.41 1331.4L940.94 1240.88M850.41 1373L940.94 1282.48M850.41 1414.6L940.94 1324.08M850.41 1456.2L940.94 1365.68M850.41 1497.8L940.94 1407.28M850.41 1539.4L940.94 1448.88M850.41 1581L940.94 1490.48" stroke="#fff" stroke-width="2" fill="none"/>
<rect x="852.41" y="828" width="86.53" height="684" fill="none" stroke="#000" stroke-width="3.9" stroke-linejoin="round"/>
<clipPath id="k7"><rect x="938.94" y="1020.6" width="86.53" height="491.4"/></clipPath>
<rect x="938.94" y="1020.6" width="86.53" height="491.4" fill="url(#gy)"/>
<path clip-path="url(#k7)" d="M936.94 936.2L1027.46 1026.73M936.94 977.8L1027.46 1068.33M936.94 1019.4L1027.46 1109.93M936.94 1061L1027.46 1151.53M936.94 1102.6L1027.46 1193.13M936.94 1144.2L1027.46 1234.73M936.94 1185.8L1027.46 1276.33M936.94 1227.4L1027.46 1317.93M936.94 1269L1027.46 1359.53M936.94 1310.6L1027.46 1401.13M936.94 1352.2L1027.46 1442.73M936.94 1393.8L1027.46 1484.33M936.94 1435.4L1027.46 1525.93M936.94 1477L1027.46 1567.53M936.94 1024.8L1027.46 934.27M936.94 1066.4L1027.46 975.88M936.94 1108L1027.46 1017.48M936.94 1149.6L1027.46 1059.08M936.94 1191.2L1027.46 1100.67M936.94 1232.8L1027.46 1142.28M936.94 1274.4L1027.46 1183.88M936.94 1316L1027.46 1225.47M936.94 1357.6L1027.46 1267.08M936.94 1399.2L1027.46 1308.67M936.94 1440.8L1027.46 1350.28M936.94 1482.4L1027.46 1391.88M936.94 1524L1027.46 1433.47M936.94 1565.6L1027.46 1475.08" stroke="#fff" stroke-width="3.4" fill="none"/>
<rect x="938.94" y="1020.6" width="86.53" height="491.4" fill="none" stroke="#000" stroke-width="3.9" stroke-linejoin="round"/>
<clipPath id="k8"><rect x="1025.46" y="1169" width="86.53" height="343"/></clipPath>
<rect x="1025.46" y="1169" width="86.53" height="343" fill="url(#gp)"/>
<path clip-path="url(#k8)" d="M1023.46 1084.6L1113.99 1175.12M1023.46 1126.2L1113.99 1216.73M1023.46 1167.8L1113.99 1258.33M1023.46 1209.4L1113.99 1299.92M1023.46 1251L1113.99 1341.53M1023.46 1292.6L1113.99 1383.12M1023.46 1334.2L1113.99 1424.73M1023.46 1375.8L1113.99 1466.33M1023.46 1417.4L1113.99 1507.93M1023.46 1459L1113.99 1549.53M1023.46 1500.6L1113.99 1591.12M1023.46 1173.2L1113.99 1082.67M1023.46 1214.8L1113.99 1124.27M1023.46 1256.4L1113.99 1165.88M1023.46 1298L1113.99 1207.47M1023.46 1339.6L1113.99 1249.08M1023.46 1381.2L1113.99 1290.67M1023.46 1422.8L1113.99 1332.28M1023.46 1464.4L1113.99 1373.88M1023.46 1506L1113.99 1415.47M1023.46 1547.6L1113.99 1457.08M1023.46 1589.2L1113.99 1498.67" stroke="#fff" stroke-width="2.5" fill="none"/>
<rect x="1025.46" y="1169" width="86.53" height="343" fill="none" stroke="#000" stroke-width="3.9" stroke-linejoin="round"/>
<clipPath id="k9"><rect x="1198.51" y="258.8" width="86.53" height="1253.2"/></clipPath>
<rect x="1198.51" y="258.8" width="86.53" height="1253.2" fill="url(#gc)"/>
<path clip-path="url(#k9)" d="M1196.51 174.4L1287.04 264.93M1196.51 216L1287.04 306.53M1196.51 257.6L1287.04 348.13M1196.51 299.2L1287.04 389.73M1196.51 340.8L1287.04 431.33M1196.51 382.4L1287.04 472.93M1196.51 424L1287.04 514.53M1196.51 465.6L1287.04 556.12M1196.51 507.2L1287.04 597.73M1196.51 548.8L1287.04 639.33M1196.51 590.4L1287.04 680.93M1196.51 632L1287.04 722.53M1196.51 673.6L1287.04 764.12M1196.51 715.2L1287.04 805.73M1196.51 756.8L1287.04 847.33M1196.51 798.4L1287.04 888.93M1196.51 840L1287.04 930.53M1196.51 881.6L1287.04 972.12M1196.51 923.2L1287.04 1013.73M1196.51 964.8L1287.04 1055.33M1196.51 1006.4L1287.04 1096.93M1196.51 1048L1287.04 1138.53M1196.51 1089.6L1287.04 1180.12M1196.51 1131.2L1287.04 1221.73M1196.51 1172.8L1287.04 1263.33M1196.51 1214.4L1287.04 1304.93M1196.51 1256L1287.04 1346.53M1196.51 1297.6L1287.04 1388.12M1196.51 1339.2L1287.04 1429.73M1196.51 1380.8L1287.04 1471.33M1196.51 1422.4L1287.04 1512.92M1196.51 1464L1287.04 1554.53M1196.51 1505.6L1287.04 1596.12M1196.51 263L1287.04 172.47M1196.51 304.6L1287.04 214.07M1196.51 346.2L1287.04 255.67M1196.51 387.8L1287.04 297.27M1196.51 429.4L1287.04 338.88M1196.51 471L1287.04 380.47M1196.51 512.6L1287.04 422.07M1196.51 554.2L1287.04 463.67M1196.51 595.8L1287.04 505.27M1196.51 637.4L1287.04 546.88M1196.51 679L1287.04 588.47M1196.51 720.6L1287.04 630.08M1196.51 762.2L1287.04 671.67M1196.51 803.8L1287.04 713.28M1196.51 845.4L1287.04 754.88M1196.51 887L1287.04 796.47M1196.51 928.6L1287.04 838.08M1196.51 970.2L1287.04 879.67M1196.51 1011.8L1287.04 921.28M1196.51 1053.4L1287.04 962.88M1196.51 1095L1287.04 1004.47M1196.51 1136.6L1287.04 1046.08M1196.51 1178.2L1287.04 1087.67M1196.51 1219.8L1287.04 1129.28M1196.51 1261.4L1287.04 1170.88M1196.51 1303L1287.04 1212.47M1196.51 1344.6L1287.04 1254.08M1196.51 1386.2L1287.04 1295.67M1196.51 1427.8L1287.04 1337.27M1196.51 1469.4L1287.04 1378.88M1196.51 1511L1287.04 1420.47M1196.51 1552.6L1287.04 1462.08M1196.51 1594.2L1287.04 1503.67" stroke="#fff" stroke-width="1.9" fill="none"/>
<rect x="1198.51" y="258.8" width="86.53" height="1253.2" fill="none" stroke="#000" stroke-width="3.9" stroke-linejoin="round"/>
<clipPath id="k10"><rect x="1285.04" y="613.3" width="86.53" height="898.7"/></clipPath>
<rect x="1285.04" y="613.3" width="86.53" height="898.7" fill="url(#gg)"/>
<path clip-path="url(#k10)" d="M1283.04 528.9L1373.56 619.42M1283.04 570.5L1373.56 661.02M1283.04 612.1L1373.56 702.62M1283.04 653.7L1373.56 744.23M1283.04 695.3L1373.56 785.83M1283.04 736.9L1373.56 827.42M1283.04 778.5L1373.56 869.02M1283.04 820.1L1373.56 910.62M1283.04 861.7L1373.56 952.23M1283.04 903.3L1373.56 993.83M1283.04 944.9L1373.56 1035.42M1283.04 986.5L1373.56 1077.03M1283.04 1028.1L1373.56 1118.62M1283.04 1069.7L1373.56 1160.22M1283.04 1111.3L1373.56 1201.83M1283.04 1152.9L1373.56 1243.43M1283.04 1194.5L1373.56 1285.03M1283.04 1236.1L1373.56 1326.62M1283.04 1277.7L1373.56 1368.22M1283.04 1319.3L1373.56 1409.83M1283.04 1360.9L1373.56 1451.43M1283.04 1402.5L1373.56 1493.03M1283.04 1444.1L1373.56 1534.62M1283.04 1485.7L1373.56 1576.22M1283.04 617.5L1373.56 526.97M1283.04 659.1L1373.56 568.57M1283.04 700.7L1373.56 610.17M1283.04 742.3L1373.56 651.77M1283.04 783.9L1373.56 693.37M1283.04 825.5L1373.56 734.97M1283.04 867.1L1373.56 776.57M1283.04 908.7L1373.56 818.17M1283.04 950.3L1373.56 859.77M1283.04 991.9L1373.56 901.38M1283.04 1033.5L1373.56 942.97M1283.04 1075.1L1373.56 984.57M1283.04 1116.7L1373.56 1026.17M1283.04 1158.3L1373.56 1067.78M1283.04 1199.9L1373.56 1109.38M1283.04 1241.5L1373.56 1150.97M1283.04 1283.1L1373.56 1192.57M1283.04 1324.7L1373.56 1234.17M1283.04 1366.3L1373.56 1275.78M1283.04 1407.9L1373.56 1317.38M1283.04 1449.5L1373.56 1358.97M1283.04 1491.1L1373.56 1400.57M1283.04 1532.7L1373.56 1442.17M1283.04 1574.3L1373.56 1483.78" stroke="#fff" stroke-width="2" fill="none"/>
<rect x="1285.04" y="613.3" width="86.53" height="898.7" fill="none" stroke="#000" stroke-width="3.9" stroke-linejoin="round"/>
<clipPath id="k11"><rect x="1371.56" y="890.6" width="86.53" height="621.4"/></clipPath>
<rect x="1371.56" y="890.6" width="86.53" height="621.4" fill="url(#gy)"/>
<path clip-path="url(#k11)" d="M1369.56 806.2L1460.09 896.73M1369.56 847.8L1460.09 938.33M1369.56 889.4L1460.09 979.93M1369.56 931L1460.09 1021.53M1369.56 972.6L1460.09 1063.12M1369.56 1014.2L1460.09 1104.73M1369.56 1055.8L1460.09 1146.33M1369.56 1097.4L1460.09 1187.93M1369.56 1139L1460.09 1229.53M1369.56 1180.6L1460.09 1271.12M1369.56 1222.2L1460.09 1312.73M1369.56 1263.8L1460.09 1354.33M1369.56 1305.4L1460.09 1395.93M1369.56 1347L1460.09 1437.53M1369.56 1388.6L1460.09 1479.12M1369.56 1430.2L1460.09 1520.73M1369.56 1471.8L1460.09 1562.33M1369.56 1513.4L1460.09 1603.93M1369.56 894.8L1460.09 804.27M1369.56 936.4L1460.09 845.88M1369.56 978L1460.09 887.48M1369.56 1019.6L1460.09 929.08M1369.56 1061.2L1460.09 970.67M1369.56 1102.8L1460.09 1012.27M1369.56 1144.4L1460.09 1053.88M1369.56 1186L1460.09 1095.47M1369.56 1227.6L1460.09 1137.08M1369.56 1269.2L1460.09 1178.67M1369.56 1310.8L1460.09 1220.28M1369.56 1352.4L1460.09 1261.88M1369.56 1394L1460.09 1303.47M1369.56 1435.6L1460.09 1345.08M1369.56 1477.2L1460.09 1386.67M1369.56 1518.8L1460.09 1428.28M1369.56 1560.4L1460.09 1469.88M1369.56 1602L1460.09 1511.47" stroke="#fff" stroke-width="3.4" fill="none"/>
<rect x="1371.56" y="890.6" width="86.53" height="621.4" fill="none" stroke="#000" stroke-width="3.9" stroke-linejoin="round"/>
<clipPath id="k12"><rect x="1458.09" y="997" width="86.53" height="515"/></clipPath>
<rect x="1458.09" y="997" width="86.53" height="515" fill="url(#gp)"/>
<path clip-path="url(#k12)" d="M1456.09 912.6L1546.61 1003.12M1456.09 954.2L1546.61 1044.73M1456.09 995.8L1546.61 1086.33M1456.09 1037.4L1546.61 1127.92M1456.09 1079L1546.61 1169.53M1456.09 1120.6L1546.61 1211.12M1456.09 1162.2L1546.61 1252.73M1456.09 1203.8L1546.61 1294.33M1456.09 1245.4L1546.61 1335.93M1456.09 1287L1546.61 1377.53M1456.09 1328.6L1546.61 1419.12M1456.09 1370.2L1546.61 1460.73M1456.09 1411.8L1546.61 1502.33M1456.09 1453.4L1546.61 1543.93M1456.09 1495L1546.61 1585.53M1456.09 1001.2L1546.61 910.67M1456.09 1042.8L1546.61 952.27M1456.09 1084.4L1546.61 993.88M1456.09 1126L1546.61 1035.47M1456.09 1167.6L1546.61 1077.08M1456.09 1209.2L1546.61 1118.67M1456.09 1250.8L1546.61 1160.28M1456.09 1292.4L1546.61 1201.88M1456.09 1334L1546.61 1243.47M1456.09 1375.6L1546.61 1285.08M1456.09 1417.2L1546.61 1326.67M1456.09 1458.8L1546.61 1368.28M1456.09 1500.4L1546.61 1409.88M1456.09 1542L1546.61 1451.47M1456.09 1583.6L1546.61 1493.07" stroke="#fff" stroke-width="2.5" fill="none"/>
<rect x="1458.09" y="997" width="86.53" height="515" fill="none" stroke="#000" stroke-width="3.9" stroke-linejoin="round"/>
<clipPath id="k13"><rect x="1631.14" y="481.8" width="86.53" height="1030.2"/></clipPath>
<rect x="1631.14" y="481.8" width="86.53" height="1030.2" fill="url(#gc)"/>
<path clip-path="url(#k13)" d="M1629.14 397.4L1719.66 487.93M1629.14 439L1719.66 529.52M1629.14 480.6L1719.66 571.12M1629.14 522.2L1719.66 612.73M1629.14 563.8L1719.66 654.33M1629.14 605.4L1719.66 695.92M1629.14 647L1719.66 737.52M1629.14 688.6L1719.66 779.12M1629.14 730.2L1719.66 820.73M1629.14 771.8L1719.66 862.33M1629.14 813.4L1719.66 903.92M1629.14 855L1719.66 945.53M1629.14 896.6L1719.66 987.12M1629.14 938.2L1719.66 1028.72M1629.14 979.8L1719.66 1070.33M1629.14 1021.4L1719.66 1111.93M1629.14 1063L1719.66 1153.53M1629.14 1104.6L1719.66 1195.12M1629.14 1146.2L1719.66 1236.72M1629.14 1187.8L1719.66 1278.33M1629.14 1229.4L1719.66 1319.93M1629.14 1271L1719.66 1361.53M1629.14 1312.6L1719.66 1403.12M1629.14 1354.2L1719.66 1444.72M1629.14 1395.8L1719.66 1486.33M1629.14 1437.4L1719.66 1527.93M1629.14 1479L1719.66 1569.53M1629.14 486L1719.66 395.47M1629.14 527.6L1719.66 437.07M1629.14 569.2L1719.66 478.67M1629.14 610.8L1719.66 520.27M1629.14 652.4L1719.66 561.88M1629.14 694L1719.66 603.47M1629.14 735.6L1719.66 645.08M1629.14 777.2L1719.66 686.67M1629.14 818.8L1719.66 728.27M1629.14 860.4L1719.66 769.88M1629.14 902L1719.66 811.47M1629.14 943.6L1719.66 853.08M1629.14 985.2L1719.66 894.67M1629.14 1026.8L1719.66 936.28M1629.14 1068.4L1719.66 977.88M1629.14 1110L1719.66 1019.47M1629.14 1151.6L1719.66 1061.08M1629.14 1193.2L1719.66 1102.67M1629.14 1234.8L1719.66 1144.28M1629.14 1276.4L1719.66 1185.88M1629.14 1318L1719.66 1227.47M1629.14 1359.6L1719.66 1269.08M1629.14 1401.2L1719.66 1310.67M1629.14 1442.8L1719.66 1352.28M1629.14 1484.4L1719.66 1393.88M1629.14 1526L1719.66 1435.47M1629.14 1567.6L1719.66 1477.08" stroke="#fff" stroke-width="1.9" fill="none"/>
<rect x="1631.14" y="481.8" width="86.53" height="1030.2" fill="none" stroke="#000" stroke-width="3.9" stroke-linejoin="round"/>
<clipPath id="k14"><rect x="1717.66" y="672.7" width="86.53" height="839.3"/></clipPath>
<rect x="1717.66" y="672.7" width="86.53" height="839.3" fill="url(#gg)"/>
<path clip-path="url(#k14)" d="M1715.66 588.3L1806.19 678.83M1715.66 629.9L1806.19 720.43M1715.66 671.5L1806.19 762.03M1715.66 713.1L1806.19 803.63M1715.66 754.7L1806.19 845.23M1715.66 796.3L1806.19 886.83M1715.66 837.9L1806.19 928.43M1715.66 879.5L1806.19 970.03M1715.66 921.1L1806.19 1011.63M1715.66 962.7L1806.19 1053.23M1715.66 1004.3L1806.19 1094.83M1715.66 1045.9L1806.19 1136.43M1715.66 1087.5L1806.19 1178.03M1715.66 1129.1L1806.19 1219.62M1715.66 1170.7L1806.19 1261.23M1715.66 1212.3L1806.19 1302.83M1715.66 1253.9L1806.19 1344.43M1715.66 1295.5L1806.19 1386.03M1715.66 1337.1L1806.19 1427.62M1715.66 1378.7L1806.19 1469.23M1715.66 1420.3L1806.19 1510.83M1715.66 1461.9L1806.19 1552.43M1715.66 1503.5L1806.19 1594.03M1715.66 676.9L1806.19 586.38M1715.66 718.5L1806.19 627.98M1715.66 760.1L1806.19 669.58M1715.66 801.7L1806.19 711.17M1715.66 843.3L1806.19 752.77M1715.66 884.9L1806.19 794.38M1715.66 926.5L1806.19 835.98M1715.66 968.1L1806.19 877.58M1715.66 1009.7L1806.19 919.17M1715.66 1051.3L1806.19 960.78M1715.66 1092.9L1806.19 1002.38M1715.66 1134.5L1806.19 1043.97M1715.66 1176.1L1806.19 1085.58M1715.66 1217.7L1806.19 1127.18M1715.66 1259.3L1806.19 1168.78M1715.66 1300.9L1806.19 1210.38M1715.66 1342.5L1806.19 1251.97M1715.66 1384.1L1806.19 1293.58M1715.66 1425.7L1806.19 1335.18M1715.66 1467.3L1806.19 1376.78M1715.66 1508.9L1806.19 1418.38M1715.66 1550.5L1806.19 1459.97M1715.66 1592.1L1806.19 1501.58" stroke="#fff" stroke-width="2" fill="none"/>
<rect x="1717.66" y="672.7" width="86.53" height="839.3" fill="none" stroke="#000" stroke-width="3.9" stroke-linejoin="round"/>
<clipPath id="k15"><rect x="1804.19" y="925.2" width="86.53" height="586.8"/></clipPath>
<rect x="1804.19" y="925.2" width="86.53" height="586.8" fill="url(#gy)"/>
<path clip-path="url(#k15)" d="M1802.19 840.8L1892.71 931.33M1802.19 882.4L1892.71 972.93M1802.19 924L1892.71 1014.53M1802.19 965.6L1892.71 1056.12M1802.19 1007.2L1892.71 1097.73M1802.19 1048.8L1892.71 1139.33M1802.19 1090.4L1892.71 1180.93M1802.19 1132L1892.71 1222.53M1802.19 1173.6L1892.71 1264.12M1802.19 1215.2L1892.71 1305.73M1802.19 1256.8L1892.71 1347.33M1802.19 1298.4L1892.71 1388.93M1802.19 1340L1892.71 1430.53M1802.19 1381.6L1892.71 1472.12M1802.19 1423.2L1892.71 1513.73M1802.19 1464.8L1892.71 1555.33M1802.19 1506.4L1892.71 1596.93M1802.19 929.4L1892.71 838.88M1802.19 971L1892.71 880.48M1802.19 1012.6L1892.71 922.08M1802.19 1054.2L1892.71 963.67M1802.19 1095.8L1892.71 1005.27M1802.19 1137.4L1892.71 1046.88M1802.19 1179L1892.71 1088.47M1802.19 1220.6L1892.71 1130.08M1802.19 1262.2L1892.71 1171.67M1802.19 1303.8L1892.71 1213.28M1802.19 1345.4L1892.71 1254.88M1802.19 1387L1892.71 1296.47M1802.19 1428.6L1892.71 1338.08M1802.19 1470.2L1892.71 1379.68M1802.19 1511.8L1892.71 1421.28M1802.19 1553.4L1892.71 1462.88M1802.19 1595L1892.71 1504.47" stroke="#fff" stroke-width="3.4" fill="none"/>
<rect x="1804.19" y="925.2" width="86.53" height="586.8" fill="none" stroke="#000" stroke-width="3.9" stroke-linejoin="round"/>
<clipPath id="k16"><rect x="1890.71" y="1123.3" width="86.53" height="388.7"/></clipPath>
<rect x="1890.71" y="1123.3" width="86.53" height="388.7" fill="url(#gp)"/>
<path clip-path="url(#k16)" d="M1888.71 1038.9L1979.24 1129.42M1888.71 1080.5L1979.24 1171.03M1888.71 1122.1L1979.24 1212.62M1888.71 1163.7L1979.24 1254.22M1888.71 1205.3L1979.24 1295.83M1888.71 1246.9L1979.24 1337.42M1888.71 1288.5L1979.24 1379.03M1888.71 1330.1L1979.24 1420.62M1888.71 1371.7L1979.24 1462.22M1888.71 1413.3L1979.24 1503.83M1888.71 1454.9L1979.24 1545.42M1888.71 1496.5L1979.24 1587.03M1888.71 1127.5L1979.24 1036.97M1888.71 1169.1L1979.24 1078.57M1888.71 1210.7L1979.24 1120.17M1888.71 1252.3L1979.24 1161.77M1888.71 1293.9L1979.24 1203.38M1888.71 1335.5L1979.24 1244.97M1888.71 1377.1L1979.24 1286.57M1888.71 1418.7L1979.24 1328.17M1888.71 1460.3L1979.24 1369.77M1888.71 1501.9L1979.24 1411.38M1888.71 1543.5L1979.24 1452.97M1888.71 1585.1L1979.24 1494.57" stroke="#fff" stroke-width="2.5" fill="none"/>
<rect x="1890.71" y="1123.3" width="86.53" height="388.7" fill="none" stroke="#000" stroke-width="3.9" stroke-linejoin="round"/>
<g stroke="#000" stroke-width="11" stroke-linecap="round" stroke-linejoin="round" fill="none">
<rect x="290" y="50.7" width="1730.5" height="1464.8"/>
<path d="M293 1393.86h11.8M293 1271.92h26.5M293 1149.99h11.8M293 1028.05h26.5M293 906.11h11.8M293 784.17h26.5M293 662.24h11.8M293 540.3h26.5M293 418.36h11.8M293 296.42h26.5M293 174.49h11.8M293 52.55h26.5M506.31 1512.5v-25.3M722.62 1512.5v-10.5M938.94 1512.5v-25.3M1155.25 1512.5v-10.5M1371.56 1512.5v-25.3M1587.88 1512.5v-10.5M1804.19 1512.5v-25.3"/>
</g>
<clipPath id="k17"><rect x="1459.2" y="99.2" width="156.9" height="77.8"/></clipPath>
<rect x="1459.2" y="99.2" width="156.9" height="77.8" fill="url(#gc)"/>
<path clip-path="url(#k17)" d="M1457.2 -27L1618.1 133.9M1457.2 14.6L1618.1 175.5M1457.2 56.2L1618.1 217.1M1457.2 97.8L1618.1 258.7M1457.2 139.4L1618.1 300.3M1457.2 102.4L1618.1 -58.5M1457.2 144L1618.1 -16.9M1457.2 185.6L1618.1 24.7M1457.2 227.2L1618.1 66.3M1457.2 268.8L1618.1 107.9M1457.2 310.4L1618.1 149.5" stroke="#fff" stroke-width="2.2" fill="none"/>
<rect x="1459.2" y="99.2" width="156.9" height="77.8" fill="none" stroke="#000" stroke-width="3.8" stroke-linejoin="round"/>
<clipPath id="k18"><rect x="1459.2" y="188.5" width="156.9" height="77.8"/></clipPath>
<rect x="1459.2" y="188.5" width="156.9" height="77.8" fill="url(#gg)"/>
<path clip-path="url(#k18)" d="M1457.2 62.3L1618.1 223.2M1457.2 103.9L1618.1 264.8M1457.2 145.5L1618.1 306.4M1457.2 187.1L1618.1 348M1457.2 228.7L1618.1 389.6M1457.2 191.7L1618.1 30.8M1457.2 233.3L1618.1 72.4M1457.2 274.9L1618.1 114M1457.2 316.5L1618.1 155.6M1457.2 358.1L1618.1 197.2M1457.2 399.7L1618.1 238.8" stroke="#fff" stroke-width="2.3" fill="none"/>
<rect x="1459.2" y="188.5" width="156.9" height="77.8" fill="none" stroke="#000" stroke-width="3.8" stroke-linejoin="round"/>
<clipPath id="k19"><rect x="1459.2" y="277.8" width="156.9" height="77.8"/></clipPath>
<rect x="1459.2" y="277.8" width="156.9" height="77.8" fill="url(#gy)"/>
<path clip-path="url(#k19)" d="M1457.2 151.6L1618.1 312.5M1457.2 193.2L1618.1 354.1M1457.2 234.8L1618.1 395.7M1457.2 276.4L1618.1 437.3M1457.2 318L1618.1 478.9M1457.2 281L1618.1 120.1M1457.2 322.6L1618.1 161.7M1457.2 364.2L1618.1 203.3M1457.2 405.8L1618.1 244.9M1457.2 447.4L1618.1 286.5M1457.2 489L1618.1 328.1" stroke="#fff" stroke-width="3.7" fill="none"/>
<rect x="1459.2" y="277.8" width="156.9" height="77.8" fill="none" stroke="#000" stroke-width="3.8" stroke-linejoin="round"/>
<clipPath id="k20"><rect x="1459.2" y="367.1" width="156.9" height="77.8"/></clipPath>
<rect x="1459.2" y="367.1" width="156.9" height="77.8" fill="url(#gp)"/>
<path clip-path="url(#k20)" d="M1457.2 240.9L1618.1 401.8M1457.2 282.5L1618.1 443.4M1457.2 324.1L1618.1 485M1457.2 365.7L1618.1 526.6M1457.2 407.3L1618.1 568.2M1457.2 370.3L1618.1 209.4M1457.2 411.9L1618.1 251M1457.2 453.5L1618.1 292.6M1457.2 495.1L1618.1 334.2M1457.2 536.7L1618.1 375.8M1457.2 578.3L1618.1 417.4" stroke="#fff" stroke-width="2.8" fill="none"/>
<rect x="1459.2" y="367.1" width="156.9" height="77.8" fill="none" stroke="#000" stroke-width="3.8" stroke-linejoin="round"/>
<text class="l" transform="translate(1637 162.4) scale(1 1.04)" font-size="70">0-2.5mm</text>
<text class="l" transform="translate(1637 251.7) scale(1 1.04)" font-size="70">2.5-5mm</text>
<text class="l" transform="translate(1637 341) scale(1 1.04)" font-size="70">5-7.5mm</text>
<text class="l" transform="translate(1637 430.3) scale(1 1.04)" font-size="70">7.5-10mm</text>
<text class="t" x="259" y="1540.7" font-size="92" text-anchor="end">0</text>
<text class="t" x="259" y="1296.83" font-size="92" text-anchor="end">5</text>
<text class="t" x="259" y="1052.95" font-size="92" text-anchor="end">10</text>
<text class="t" x="259" y="809.07" font-size="92" text-anchor="end">15</text>
<text class="t" x="259" y="565.2" font-size="92" text-anchor="end">20</text>
<text class="t" x="259" y="321.32" font-size="92" text-anchor="end">25</text>
<text class="t" x="259" y="77.45" font-size="92" text-anchor="end">30</text>
<text class="t" x="506.31" y="1618.2" font-size="92" text-anchor="middle">0#</text>
<text class="t" x="938.94" y="1618.2" font-size="92" text-anchor="middle">1#</text>
<text class="t" x="1371.56" y="1618.2" font-size="92" text-anchor="middle">2#</text>
<text class="t" x="1804.19" y="1618.2" font-size="92" text-anchor="middle">3#</text>
<text class="t" transform="translate(108.4 844.5) rotate(-90)" font-size="92.3" text-anchor="middle">Chloride content (mg/g)</text>
</svg></body></html>
